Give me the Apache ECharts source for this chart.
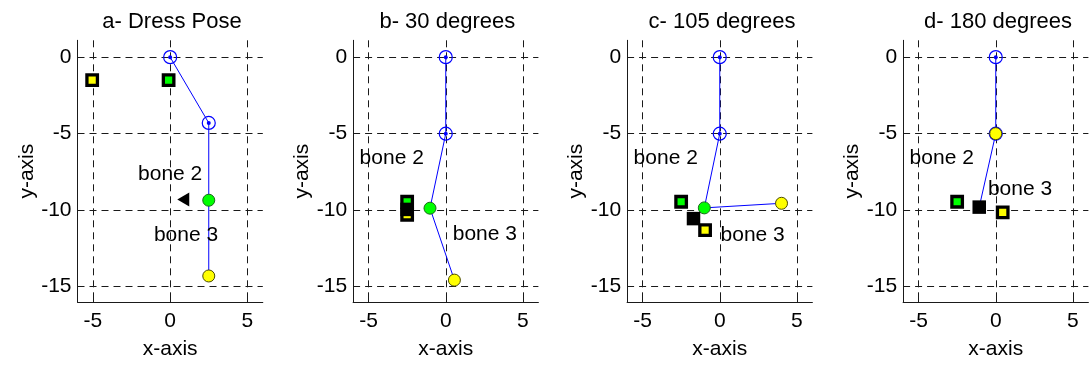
<!DOCTYPE html>
<html><head><meta charset="utf-8">
<script src="https://cdn.jsdelivr.net/npm/echarts@6/dist/echarts.min.js"></script>
<style>html,body{margin:0;padding:0;background:#fff}#c{width:1090px;height:365px}</style>
</head><body><div id="c"></div>
<script>
// ---- data ----
const titles = ['a- Dress Pose', 'b- 30 degrees', 'c- 105 degrees', 'd- 180 degrees'];
const xTicks = [-5, 0, 5];
const yTicks = [0, -5, -10, -15];
const xLabel = 'x-axis';
const yLabel = 'y-axis';
const boneLines = [
  [[0, 0], [2.5, -4.3], [2.5, -9.35], [2.5, -14.3]],
  [[0, 0], [0, -5], [-1.02, -9.87], [0.56, -14.57]],
  [[0, 0], [0, -5], [-1.0, -9.85], [4.0, -9.55]],
  [[0, 0], [0, -5], [-1.07, -9.8]]
];
const jointCircles = [
  [[0, 0], [2.5, -4.3]],
  [[0, 0], [0, -5]],
  [[0, 0], [0, -5]],
  [[0, 0], [0, -5]]
];
const greenCircles = [[[2.5, -9.35]], [[-1.02, -9.87]], [[-1.0, -9.85]], []];
const yellowCircles = [[[2.5, -14.3]], [[0.56, -14.57]], [[4.0, -9.55]], [[0, -5]]];
const greenSquares = [[[-0.1, -1.5]], [[-2.5, -9.45]], [[-2.5, -9.45]], [[-2.5, -9.45]]];
const yellowSquares = [[[-5.05, -1.5]], [[-2.5, -10.3]], [[-0.95, -11.3]], [[0.45, -10.15]]];
const blackSquares = [[], [[-2.5, -9.95]], [[-1.7, -10.55]], [[-1.07, -9.8]]];
const triangles = [[[0.85, -9.3]], [], [], []];
const bone2Pos = [[0, -7.65], [-3.5, -6.63], [-3.5, -6.63], [-3.5, -6.63]];
const bone3Pos = [[1.03, -11.65], [2.53, -11.6], [2.13, -11.65], [1.57, -8.66]];
const boneNames = ['bone 2', 'bone 3'];

// ---- layout ----
const FONT = 'Liberation Sans, Arial, sans-serif';
const gridLefts = [77.5, 353.1, 627.1, 903.1];
const titleCenters = [167, 442.3, 717, 993];
const gridW = 185.3, gridTop = 40.3, gridH = 263.7;

const grids = [], xAxes = [], yAxes = [], series = [], titleArr = [];
const axisLineStyle = { color: '#1a1a1a', width: 1 };
const splitStyle = { show: true, lineStyle: { color: '#1a1a1a', type: [7, 5], width: 1 } };

for (let i = 0; i < 4; i++) {
  grids.push({ left: gridLefts[i], top: gridTop, width: gridW, height: gridH, containLabel: false });
  titleArr.push({ text: titles[i], left: titleCenters[i], top: 6, textAlign: 'center',
    textStyle: { fontFamily: FONT, fontSize: 22, fontWeight: 'normal', color: '#000' } });
  xAxes.push({ gridIndex: i, type: 'value', min: -6, max: 6, position: 'bottom',
    name: xLabel, nameLocation: 'middle', nameGap: 37,
    nameTextStyle: { fontFamily: FONT, fontSize: 21, color: '#000' },
    axisLine: { show: true, onZero: false, lineStyle: axisLineStyle },
    axisTick: { show: true, inside: true, length: 4, customValues: xTicks, lineStyle: axisLineStyle },
    axisLabel: { customValues: xTicks, margin: 9, fontFamily: FONT, fontSize: 21, color: '#000' },
    splitLine: splitStyle });
  yAxes.push({ gridIndex: i, type: 'value', min: -16, max: 1.1, position: 'left',
    name: yLabel, nameLocation: 'middle', nameGap: 40, nameRotate: 90,
    nameTextStyle: { fontFamily: FONT, fontSize: 21, color: '#000' },
    axisLine: { show: true, onZero: false, lineStyle: axisLineStyle },
    axisTick: { show: true, inside: true, length: 4, customValues: yTicks, lineStyle: axisLineStyle },
    axisLabel: { customValues: yTicks, margin: 6, fontFamily: FONT, fontSize: 21, color: '#000' },
    splitLine: splitStyle });

  const base = { xAxisIndex: i, yAxisIndex: i, silent: true, animation: false };
  series.push(Object.assign({}, base, { type: 'line', data: boneLines[i], symbol: 'none', z: 2,
    lineStyle: { color: '#0000ff', width: 1 } }));
  series.push(Object.assign({}, base, { type: 'scatter', data: jointCircles[i], symbol: 'circle', symbolSize: 13, z: 3,
    itemStyle: { color: 'rgba(0,0,0,0)', borderColor: '#0000ff', borderWidth: 1.2, opacity: 1 } }));
  series.push(Object.assign({}, base, { type: 'scatter', data: jointCircles[i], symbol: 'circle', symbolSize: 4, z: 3,
    itemStyle: { color: '#0000ff', opacity: 1 } }));
  series.push(Object.assign({}, base, { type: 'scatter', data: greenCircles[i], symbol: 'circle', symbolSize: 12, z: 4,
    itemStyle: { color: '#00ff00', borderColor: '#1a6a1a', borderWidth: 1, opacity: 1 } }));
  series.push(Object.assign({}, base, { type: 'scatter', data: yellowCircles[i], symbol: 'circle', symbolSize: 12, z: 5,
    itemStyle: { color: '#ffff00', borderColor: '#4a4a00', borderWidth: 1, opacity: 1 } }));
  series.push(Object.assign({}, base, { type: 'scatter', data: greenSquares[i], symbol: 'rect', symbolSize: 10.5, z: 4,
    itemStyle: { color: '#00ff00', borderColor: '#000', borderWidth: 3.3, opacity: 1 } }));
  series.push(Object.assign({}, base, { type: 'scatter', data: yellowSquares[i], symbol: 'rect', symbolSize: 10.5, z: 5,
    itemStyle: { color: '#ffff00', borderColor: '#000', borderWidth: 3.3, opacity: 1 } }));
  series.push(Object.assign({}, base, { type: 'scatter', data: blackSquares[i], symbol: 'rect', symbolSize: 13.5, z: 6,
    itemStyle: { color: '#000', opacity: 1 } }));
  series.push(Object.assign({}, base, { type: 'scatter', data: triangles[i], symbol: 'triangle', symbolSize: [14, 12],
    symbolRotate: 90, z: 4, itemStyle: { color: '#000', opacity: 1 } }));
  series.push(Object.assign({}, base, { type: 'scatter', z: 7, symbolSize: 0, itemStyle: { opacity: 1 },
    data: [{ value: bone2Pos[i], name: boneNames[0] }, { value: bone3Pos[i], name: boneNames[1] }],
    label: { show: true, position: 'inside', formatter: '{b}', fontFamily: FONT, fontSize: 21, color: '#000' } }));
}

const chart = echarts.init(document.getElementById('c'), null, { renderer: 'canvas' });
chart.setOption({
  backgroundColor: '#fff',
  animation: false,
  title: titleArr,
  grid: grids,
  xAxis: xAxes,
  yAxis: yAxes,
  series: series
});
</script></body></html>
